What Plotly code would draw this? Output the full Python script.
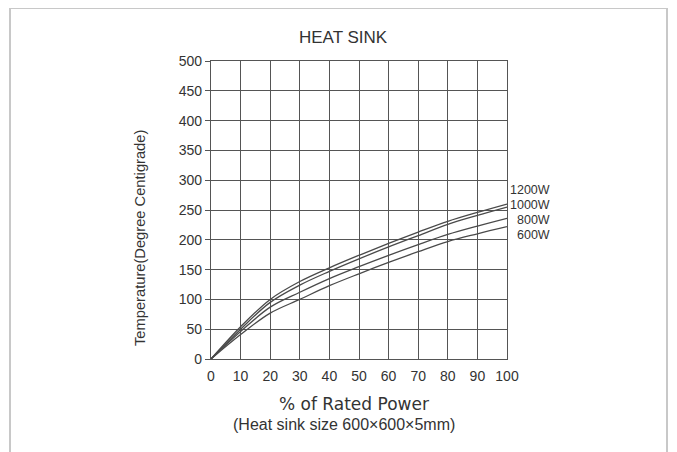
import plotly.graph_objects as go

power_pct = [0, 10, 20, 30, 40, 50, 60, 70, 80, 90, 100]
temp_1200w = [0, 54, 100, 130, 153, 174, 194, 213, 231, 246, 260]
temp_1000w = [0, 50, 95, 124, 147, 168, 188, 207, 226, 241, 255]
temp_800w = [0, 46, 87, 112, 135, 155, 174, 192, 209, 223, 236]
temp_600w = [0, 41, 77, 100, 123, 143, 162, 180, 197, 210, 222]
series_names = ["1200W", "1000W", "800W", "600W"]
series_values = [temp_1200w, temp_1000w, temp_800w, temp_600w]
x_ticks = [0, 10, 20, 30, 40, 50, 60, 70, 80, 90, 100]
y_ticks = [0, 50, 100, 150, 200, 250, 300, 350, 400, 450, 500]

# page body has an 8px margin; lay the figure out in reference pixel coords
OFF = 8
W, H = 677 - OFF, 452 - OFF
L, T = 211 - OFF, 61 - OFF
pw, ph = 296, 298
R, B = W - L - pw, H - T - ph

def px_x(p):
    return (p - OFF - L) / pw

def px_y(p):
    return (T + ph - (p - OFF)) / ph

fig = go.Figure()
for name, vals in zip(series_names, series_values):
    fig.add_trace(go.Scatter(x=power_pct, y=vals, mode="lines", name=name,
                             line=dict(color="#4a4a4a", width=1.3, shape="spline", smoothing=1.0),
                             showlegend=False, hoverinfo="x+y+name"))

font = "Liberation Sans, Arial, sans-serif"
wide = "DejaVu Sans, Verdana, sans-serif"
label_px_y = [190, 205, 220, 235]
annotations = []
for name, py in zip(series_names, label_px_y):
    annotations.append(dict(text=name, xref="paper", yref="paper", x=px_x(552), y=px_y(py),
                            xanchor="right", yanchor="middle", showarrow=False,
                            font=dict(family=font, size=12.5, color="#333")))
annotations += [
    dict(text="HEAT SINK", xref="paper", yref="paper", x=px_x(343), y=px_y(38),
         xanchor="center", yanchor="middle", showarrow=False,
         font=dict(family=font, size=17, color="#333")),
    dict(text="% of Rated Power", xref="paper", yref="paper", x=px_x(354), y=px_y(404),
         xanchor="center", yanchor="middle", showarrow=False,
         font=dict(family=wide, size=17, color="#333")),
    dict(text="(Heat sink size 600×600×5mm)", xref="paper", yref="paper", x=px_x(344), y=px_y(424),
         xanchor="center", yanchor="middle", showarrow=False,
         font=dict(family=font, size=16, color="#333")),
    dict(text="Temperature(Degree Centigrade)", xref="paper", yref="paper", x=px_x(140), y=px_y(238),
         xanchor="center", yanchor="middle", showarrow=False, textangle=-90,
         font=dict(family=font, size=14.7, color="#333")),
]

fig.update_layout(
    width=W, height=H,
    margin=dict(l=L, r=R, t=T, b=B),
    paper_bgcolor="white", plot_bgcolor="white",
    annotations=annotations,
    shapes=[dict(type="rect", xref="paper", yref="paper",
                 x0=px_x(10), x1=px_x(667), y0=px_y(480), y1=px_y(8),
                 line=dict(color="#c8c8c8", width=2), layer="below")],
)
fig.update_xaxes(range=[0, 100], tickvals=x_ticks, showgrid=True, gridcolor="#555", gridwidth=1.4,
                 showline=True, linecolor="#555", linewidth=1.4, mirror=True, zeroline=False,
                 ticks="", tickfont=dict(family=font, size=14, color="#333"), ticklabelstandoff=4)
fig.update_yaxes(range=[0, 500], tickvals=y_ticks, showgrid=True, gridcolor="#555", gridwidth=1.4,
                 showline=True, linecolor="#555", linewidth=1.4, mirror=True, zeroline=False,
                 ticks="outside", ticklen=5, tickcolor="#555",
                 tickfont=dict(family=font, size=14, color="#333"))

fig.write_html("out.html")
